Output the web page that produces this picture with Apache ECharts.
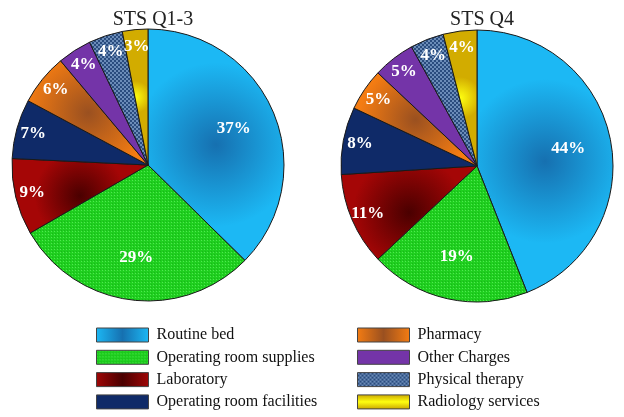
<!DOCTYPE html>
<html>
<head>
<meta charset="utf-8">
<script src="https://cdn.jsdelivr.net/npm/echarts@6/dist/echarts.min.js"></script>
<style>html,body{margin:0;padding:0;background:#fff}#c{width:624px;height:417px}</style>
</head>
<body>
<div id="c"></div>
<script>
const categories = ['Routine bed','Operating room supplies','Laboratory','Operating room facilities','Pharmacy','Other Charges','Physical therapy','Radiology services'];
const valuesQ13 = [37, 29, 9, 7, 6, 4, 4, 3];
const valuesQ4 = [44, 19, 11, 8, 5, 5, 4, 4];
const titles = ['STS Q1-3', 'STS Q4'];

function pattern(size, draw) {
  const cv = document.createElement('canvas');
  cv.width = size; cv.height = size;
  draw(cv.getContext('2d'));
  return { image: cv, repeat: 'repeat' };
}
const greenPat = pattern(3, g => {
  g.fillStyle = '#1fcf1f'; g.fillRect(0,0,3,3);
  g.fillStyle = '#4fe84f'; g.fillRect(0,0,1,1);
  g.fillStyle = '#18b818'; g.fillRect(1,2,1,1);
});
const checkPat = pattern(4, g => {
  g.fillStyle = '#2a4c7e'; g.fillRect(0,0,4,4);
  g.fillStyle = '#6b8cb8'; g.fillRect(0,0,2,2); g.fillRect(2,2,2,2);
});
function rad(center, edge) {
  return { type:'radial', x:0.5, y:0.5, r:0.6, colorStops:[{offset:0,color:center},{offset:1,color:edge}] };
}
function lin(center, edge, vertical) {
  return { type:'linear', x:0, y:0, x2: vertical ? 0 : 1, y2: vertical ? 1 : 0,
    colorStops:[{offset:0,color:edge},{offset:0.5,color:center},{offset:1,color:edge}] };
}
const colors = [
  rad('#1670b0', '#1cb8f4'),
  greenPat,
  rad('#4a0000', '#a50606'),
  '#0f2a68',
  rad('#9a5020', '#f47c12'),
  '#7434a8',
  checkPat,
  rad('#ffff10', '#d2ac00')
];
const legendColors = [
  lin('#1670b0', '#1cb8f4'),
  greenPat,
  lin('#4a0000', '#a00606'),
  '#0f2a68',
  lin('#9a5020', '#f47c12'),
  '#7434a8',
  checkPat,
  lin('#ffff10', '#c9a400', true)
];

const centers = [[148,165],[477,166]];
const R = 136;
const font = '"Liberation Serif", "Times New Roman", serif';

function mainData(vals) {
  return vals.map((v,i) => ({ name: categories[i], value: v, itemStyle: { color: colors[i] } }));
}
function labelData(vals, big) {
  return vals.map((v,i) => ({ name: categories[i], value: v, label: { show: big ? v >= 15 : v < 15 } }));
}
const allVals = [valuesQ13, valuesQ4];
const series = [];
allVals.forEach((vals, k) => {
  series.push({
    type:'pie', center: centers[k], radius:[0,R], startAngle:90, clockwise:true,
    data: mainData(vals), label:{show:false}, labelLine:{show:false},
    itemStyle:{ borderColor:'#1a1a1a', borderWidth:1 },
    emphasis:{disabled:true}, animation:false
  });
});
allVals.forEach((vals, k) => {
  [[true,[44,R]],[false,[96,R]]].forEach(([big, r]) => {
    series.push({
      type:'pie', center: centers[k], radius:r, startAngle:90, clockwise:true, silent:true,
      data: labelData(vals, big),
      itemStyle:{ color:'rgba(0,0,0,0)', borderWidth:0 },
      label:{ position:'inside', formatter: p => p.value + '%', color:'#fff', fontFamily: font, fontWeight:'bold', fontSize:17 },
      labelLine:{show:false}, emphasis:{disabled:true}, animation:false
    });
  });
});

const legendCommon = {
  orient:'vertical', icon:'rect', itemWidth:52, itemHeight:14, itemGap:6.3, padding:0,
  itemStyle:{ borderColor:'#444', borderWidth:1 },
  textStyle:{ fontFamily: font, fontSize:16, color:'#111', padding:[0,0,0,3] },
  selectedMode:false
};
function legendData(from, to) {
  return categories.slice(from, to).map((c, j) => ({ name: c, itemStyle: { color: legendColors[from + j] } }));
}
const chart = echarts.init(document.getElementById('c'));
chart.setOption({
  backgroundColor:'#fff',
  animation:false,
  title: titles.map((t,k) => ({ text:t, left:centers[k][0], top:5, textAlign:'center',
    textStyle:{ fontFamily: font, fontWeight:'normal', fontSize:20, color:'#222' } })),
  legend: [
    Object.assign({ left:96, top:327, data: legendData(0,4) }, legendCommon),
    Object.assign({ left:357, top:327, data: legendData(4,8) }, legendCommon)
  ],
  series
});
</script>
</body>
</html>
